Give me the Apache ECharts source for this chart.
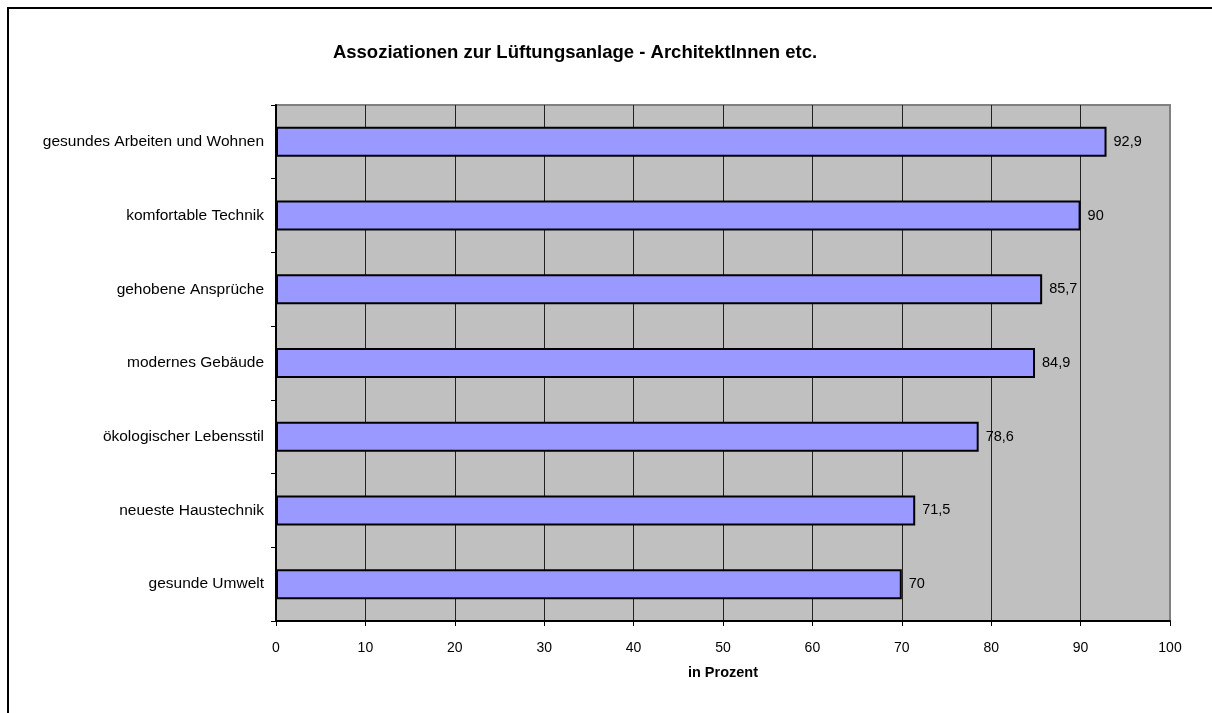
<!DOCTYPE html>
<html>
<head>
    <meta charset="utf-8">
    <script src="https://cdn.jsdelivr.net/npm/echarts@6/dist/echarts.min.js"></script>
    <title>Assoziationen zur Lüftungsanlage</title>
    <style>
        html, body { margin: 0; padding: 0; background: #fff; }
    </style>
</head>
<body>
    <div id="main" style="width: 1212px;height:713px;"></div>
    <script type="text/javascript">
    // Kategorien von oben nach unten
    var categories = [
        'gesundes Arbeiten und Wohnen',
        'komfortable Technik',
        'gehobene Ansprüche',
        'modernes Gebäude',
        'ökologischer Lebensstil',
        'neueste Haustechnik',
        'gesunde Umwelt'
    ];
    var values = [92.9, 90, 85.7, 84.9, 78.6, 71.5, 70];

    var font = 'Liberation Sans, Arial, sans-serif';
    var gridColors = ['#000', '#222', '#222', '#222', '#222', '#222', '#222', '#222', '#222', '#222', '#808080'];

    var myChart = echarts.init(document.getElementById('main'));

    var option = {
        backgroundColor: '#fff',
        animation: false,
        graphic: [{
            type: 'rect',
            shape: { x: 8, y: 8, width: 1230, height: 740 },
            style: { fill: 'none', stroke: '#000', lineWidth: 2 },
            z: -1
        }, {
            type: 'text',
            x: 575,
            y: 53,
            style: {
                text: 'Assoziationen zur Lüftungsanlage - ArchitektInnen etc.',
                font: 'bold 18.5px ' + font,
                fill: '#000',
                textAlign: 'center',
                textVerticalAlign: 'middle'
            }
        }],
        grid: {
            left: 276,
            right: 42,
            top: 105,
            bottom: 92,
            show: true,
            backgroundColor: '#C0C0C0',
            borderColor: '#808080',
            borderWidth: 2
        },
        xAxis: {
            type: 'value',
            min: 0,
            max: 100,
            interval: 10,
            name: 'in Prozent',
            nameLocation: 'middle',
            nameGap: 44,
            nameTextStyle: { fontFamily: font, fontSize: 14.5, fontWeight: 'bold', color: '#000' },
            axisLine: { show: true, lineStyle: { color: '#000', width: 2 } },
            axisTick: { show: true, length: 5, lineStyle: { color: '#000' } },
            axisLabel: { fontFamily: font, fontSize: 14, color: '#000', margin: 20 },
            splitLine: { show: true, lineStyle: { color: gridColors, width: 1 } }
        },
        yAxis: {
            type: 'category',
            inverse: true,
            data: categories,
            axisLine: { show: true, lineStyle: { color: '#000', width: 2 } },
            axisTick: { show: true, length: 5, lineStyle: { color: '#000' } },
            axisLabel: { fontFamily: font, fontSize: 15.5, color: '#000', margin: 12 },
            splitLine: { show: false }
        },
        series: [{
            type: 'bar',
            data: values,
            barWidth: 30,
            itemStyle: { color: '#9999FF', borderColor: '#000', borderWidth: 2 },
            label: {
                show: true,
                position: 'right',
                distance: 7,
                fontFamily: font,
                fontSize: 14.5,
                color: '#000',
                formatter: function (p) { return String(p.value).replace('.', ','); }
            }
        }]
    };
    myChart.setOption(option);
    </script>
</body>
</html>
